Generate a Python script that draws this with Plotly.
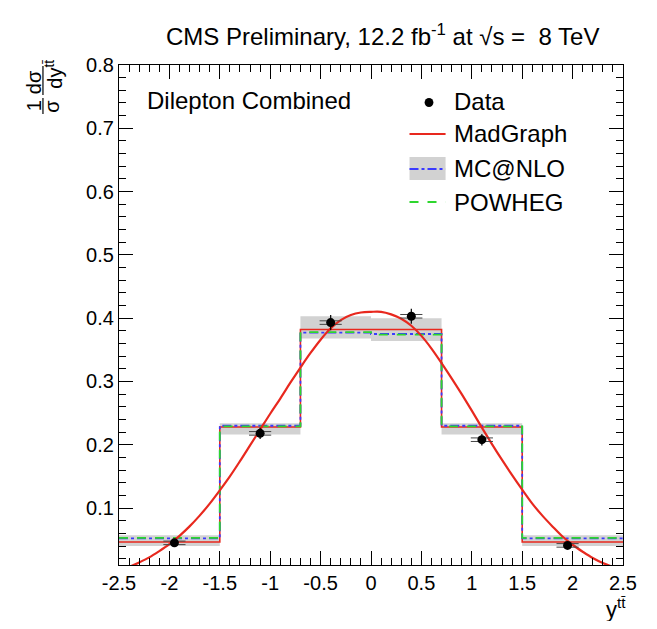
import plotly.graph_objects as go

# ---------------- data ----------------
bin_edges = [-2.5, -1.5, -0.7, 0.0, 0.7, 1.5, 2.5]
madgraph_hist = [0.0463, 0.228, 0.382, 0.382, 0.228, 0.0463]
mcatnlo_hist = [0.052, 0.230, 0.377, 0.375, 0.230, 0.052]
powheg_hist = [0.053, 0.229, 0.378, 0.374, 0.229, 0.053]
mcatnlo_band_lo = [0.040, 0.216, 0.368, 0.364, 0.216, 0.040]
mcatnlo_band_hi = [0.057, 0.234, 0.403, 0.400, 0.234, 0.057]

data_x = [-1.95, -1.1, -0.4, 0.4, 1.1, 1.95]
data_y = [0.045, 0.218, 0.393, 0.403, 0.208, 0.041]
data_err = [0.004, 0.009, 0.012, 0.012, 0.009, 0.004]
data_xerr = [0.11, 0.11, 0.11, 0.11, 0.11, 0.11]

curve_x = [-2.5, -2.4, -2.3, -2.2, -2.1, -2.0, -1.9, -1.8, -1.7, -1.6, -1.5,
           -1.4, -1.3, -1.2, -1.1, -1.0, -0.9, -0.8, -0.7, -0.6, -0.5, -0.4,
           -0.3, -0.2, -0.1, 0.0, 0.1, 0.2, 0.3, 0.4, 0.5, 0.6, 0.7, 0.8, 0.9,
           1.0, 1.1, 1.2, 1.3, 1.4, 1.5, 1.6, 1.7, 1.8, 1.9, 2.0, 2.1, 2.2,
           2.3, 2.4, 2.5]
curve_y = [0.002, 0.007, 0.014, 0.022, 0.032, 0.043, 0.056, 0.071, 0.088, 0.107, 0.128,
           0.150, 0.174, 0.199, 0.224, 0.249, 0.273, 0.298, 0.322, 0.345, 0.366, 0.384,
           0.397, 0.405, 0.409, 0.410, 0.410, 0.406, 0.399, 0.388, 0.372, 0.352, 0.329, 0.305, 0.280,
           0.254, 0.227, 0.201, 0.176, 0.152, 0.129, 0.107, 0.088, 0.071, 0.055, 0.042, 0.031, 0.021,
           0.013, 0.007, 0.002]

x_tickvals = [-2.5, -2, -1.5, -1, -0.5, 0, 0.5, 1, 1.5, 2, 2.5]
x_ticktext = ["-2.5", "-2", "-1.5", "-1", "-0.5", "0", "0.5", "1", "1.5", "2", "2.5"]
y_tickvals = [0.1, 0.2, 0.3, 0.4, 0.5, 0.6, 0.7, 0.8]
y_ticktext = ["0.1", "0.2", "0.3", "0.4", "0.5", "0.6", "0.7", "0.8"]

# ---------------- layout geometry (screen pixels) ----------------
OFF = 8                      # default page body margin
W, H = 657 - 2 * OFF, 629 - 2 * OFF
L, R, T, B = 119, 636, 65, 565   # plot frame in screenshot pixels
FONT = "Liberation Sans, Arial, Helvetica, sans-serif"

RED = "#e8281e"
BLUE = "#3a3aff"
GREEN = "#2ed62e"
GRAY = "#d2d2d2"


def px(x):
    return (x - L) / (R - L)


def py(y):
    return (B - y) / (B - T)


def step(vals):
    return list(vals) + [vals[-1]]


fig = go.Figure()

# uncertainty band (MC@NLO)
fig.add_trace(go.Scatter(x=bin_edges, y=step(mcatnlo_band_lo), mode="lines",
                         line=dict(width=0, shape="hv", color=GRAY),
                         hoverinfo="skip", showlegend=False))
fig.add_trace(go.Scatter(x=bin_edges, y=step(mcatnlo_band_hi), mode="lines",
                         line=dict(width=0, shape="hv", color=GRAY),
                         fill="tonexty", fillcolor=GRAY,
                         hoverinfo="skip", showlegend=False))

# step histograms
fig.add_trace(go.Scatter(x=bin_edges, y=step(madgraph_hist), mode="lines",
                         line=dict(color=RED, width=1.6, shape="hv"),
                         name="MadGraph", showlegend=False))
fig.add_trace(go.Scatter(x=bin_edges, y=step(mcatnlo_hist), mode="lines",
                         line=dict(color=BLUE, width=1.8, shape="hv", dash="dashdot"),
                         name="MC@NLO", showlegend=False))
fig.add_trace(go.Scatter(x=bin_edges, y=step(powheg_hist), mode="lines",
                         line=dict(color=GREEN, width=1.8, shape="hv", dash="dash"),
                         name="POWHEG", showlegend=False))

# MadGraph smooth curve
fig.add_trace(go.Scatter(x=curve_x, y=curve_y, mode="lines",
                         line=dict(color=RED, width=2.2, shape="spline"),
                         name="MadGraph curve", showlegend=False))

# data: double horizontal bars
for off in (-0.0028, 0.0028):
    fig.add_trace(go.Scatter(x=data_x, y=[v + off for v in data_y], mode="markers",
                             marker=dict(size=1, color="rgba(0,0,0,0)"),
                             error_x=dict(type="data", array=data_xerr, width=0,
                                          thickness=1, color="#444444"),
                             hoverinfo="skip", showlegend=False))
fig.add_trace(go.Scatter(x=data_x, y=data_y, mode="markers",
                         marker=dict(size=9, color="black", symbol="circle"),
                         error_y=dict(type="data", array=data_err, width=0,
                                      thickness=1.2, color="black"),
                         name="Data", showlegend=False))

axis_common = dict(
    showgrid=False, zeroline=False, showline=True, linecolor="black", linewidth=1.2,
    mirror="ticks", ticks="inside", ticklen=14, tickwidth=1, tickcolor="black",
    ticklabeloverflow="allow",
    tickfont=dict(family=FONT, size=20, color="black"),
)

fig.update_layout(
    width=W, height=H,
    margin=dict(l=L - OFF, r=W - (R - OFF), t=T - OFF, b=H - (B - OFF), pad=0),
    paper_bgcolor="white", plot_bgcolor="white",
    font=dict(family=FONT, color="black"),
    xaxis=dict(range=[-2.5, 2.5], tickvals=x_tickvals, ticktext=x_ticktext,
               minor=dict(dtick=0.1, ticks="inside", ticklen=7, tickcolor="black", tickwidth=1),
               **axis_common),
    yaxis=dict(range=[0.01, 0.8], tickvals=y_tickvals, ticktext=y_ticktext,
               minor=dict(dtick=0.02, tick0=0, ticks="inside", ticklen=7, tickcolor="black", tickwidth=1),
               **axis_common),
    showlegend=False,
)

ann = []
# title
ann.append(dict(x=px(613), y=py(35), xref="paper", yref="paper", xanchor="right", yanchor="middle",
                text="CMS Preliminary, 12.2 fb<sup>-1</sup> at √s =  8 TeV", showarrow=False,
                font=dict(family=FONT, size=24, color="black")))
# inner label
ann.append(dict(x=px(146), y=py(101), xref="paper", yref="paper", xanchor="left", yanchor="middle",
                text="Dilepton Combined", showarrow=False,
                font=dict(family=FONT, size=24, color="black")))
# legend texts
for label, yy in [("Data", 102), ("MadGraph", 133), ("MC@NLO", 168), ("POWHEG", 202)]:
    ann.append(dict(x=px(461), y=py(yy), xref="paper", yref="paper", xanchor="left", yanchor="middle",
                    text=label, showarrow=False, font=dict(family=FONT, size=24, color="black")))
# x axis title
ann.append(dict(x=px(641), y=py(608), xref="paper", yref="paper", xanchor="right", yanchor="middle",
                text="y<sup>tt̄</sup>", showarrow=False, font=dict(family=FONT, size=22, color="black")))
# y axis title as rotated fraction parts
ann.append(dict(x=px(32), y=py(106), xref="paper", yref="paper", xanchor="center", yanchor="middle",
                text="1", textangle=-90, showarrow=False, font=dict(family=FONT, size=20, color="black")))
ann.append(dict(x=px(50), y=py(106), xref="paper", yref="paper", xanchor="center", yanchor="middle",
                text="σ", textangle=-90, showarrow=False, font=dict(family=FONT, size=20, color="black")))
ann.append(dict(x=px(32), y=py(82), xref="paper", yref="paper", xanchor="center", yanchor="middle",
                text="dσ", textangle=-90, showarrow=False, font=dict(family=FONT, size=20, color="black")))
ann.append(dict(x=px(51), y=py(74), xref="paper", yref="paper", xanchor="center", yanchor="middle",
                text="dy<sup>tt̄</sup>", textangle=-90, showarrow=False, font=dict(family=FONT, size=20, color="black")))
fig.update_layout(annotations=ann)

shapes = []
# fraction bars for y-title
shapes.append(dict(type="line", xref="paper", yref="paper", x0=px(41), x1=px(41), y0=py(98), y1=py(114),
                   line=dict(color="black", width=1.2)))
shapes.append(dict(type="line", xref="paper", yref="paper", x0=px(41), x1=px(41), y0=py(66), y1=py(95),
                   line=dict(color="black", width=1.2)))
# legend symbols
shapes.append(dict(type="circle", xref="paper", yref="paper", x0=px(432.5), x1=px(441.5), y0=py(98), y1=py(107),
                   fillcolor="black", line=dict(color="black", width=0)))
shapes.append(dict(type="line", xref="paper", yref="paper", x0=px(417), x1=px(454), y0=py(134), y1=py(134),
                   line=dict(color=RED, width=2)))
shapes.append(dict(type="rect", xref="paper", yref="paper", x0=px(417), x1=px(454), y0=py(157), y1=py(180),
                   fillcolor=GRAY, line=dict(width=0)))
shapes.append(dict(type="line", xref="paper", yref="paper", x0=px(417), x1=px(454), y0=py(169), y1=py(169),
                   line=dict(color=BLUE, width=2, dash="dashdot")))
shapes.append(dict(type="line", xref="paper", yref="paper", x0=px(417), x1=px(454), y0=py(202), y1=py(202),
                   line=dict(color=GREEN, width=2, dash="dash")))
fig.update_layout(shapes=shapes)

fig.write_html("out.html")
